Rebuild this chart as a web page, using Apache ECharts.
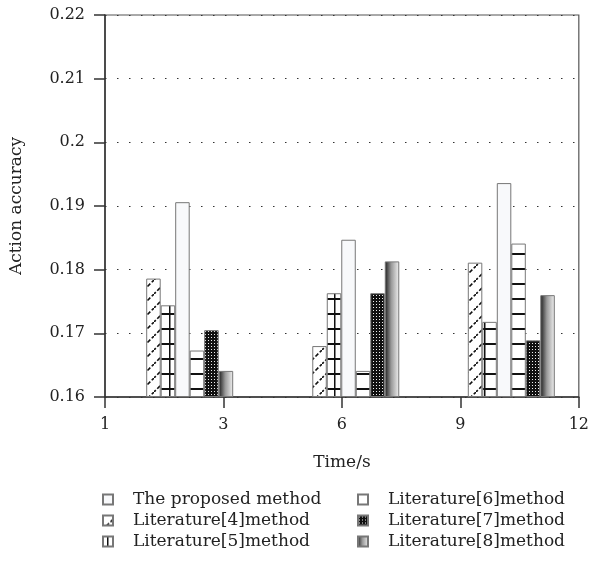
<!DOCTYPE html>
<html>
<head>
	<meta charset="utf-8">
	<title></title>
    <script src="https://cdn.jsdelivr.net/npm/echarts@6/dist/echarts.min.js"></script>
    <style>
        body { margin: 0; background: #fff; }
    </style>
</head>
<body>
    <div id="main" style="width: 592px;height:563px;"></div>
	<script type="text/javascript">
        // tick labels on the time axis (evenly spaced in the figure)
        const xLabels = ['1', '3', '6', '9', '12'];
        // where each group of bars sits, in units of the tick index above
        const groupX = [0.715, 2.117, 3.43];

        const proposed = [0.1906, 0.1847, 0.1936];
        const lit4 = [0.1786, 0.1680, 0.1811];
        const lit5 = [0.1744, 0.1763, 0.1718];
        const lit6 = [0.1673, 0.1641, 0.1841];
        const lit7 = [0.1705, 0.1763, 0.1689];
        const lit8 = [0.1641, 0.1813, 0.1760];

        const FONT = 'DejaVu Serif';

        function tile(w, h, draw) {
            const c = document.createElement('canvas');
            c.width = w; c.height = h;
            const ctx = c.getContext('2d');
            ctx.fillStyle = '#fff';
            ctx.fillRect(0, 0, w, h);
            draw(ctx);
            return { image: c, repeat: 'repeat' };
        }

        const hatch = tile(14, 14, ctx => {
            ctx.strokeStyle = '#111';
            ctx.lineWidth = 1.6;
            ctx.setLineDash([4, 2]);
            ctx.beginPath();
            ctx.moveTo(-1, 15); ctx.lineTo(15, -1);
            ctx.stroke();
        });
        const teeLines = tile(15, 15, ctx => {
            ctx.fillStyle = '#111';
            ctx.fillRect(0, 13, 15, 2);
            ctx.fillRect(4, 0, 1.5, 15);
        });
        const hLines = tile(15, 15, ctx => {
            ctx.fillStyle = '#111';
            ctx.fillRect(0, 13, 15, 2);
        });
        const dots = tile(3, 3, ctx => {
            ctx.fillStyle = '#111';
            ctx.fillRect(0, 0, 3, 3);
            ctx.fillStyle = '#eee';
            ctx.fillRect(1, 1, 1, 1);
        });
        const shade = {
            type: 'linear', x: 0, y: 0, x2: 1, y2: 0,
            colorStops: [
                { offset: 0, color: '#1a1a1a' },
                { offset: 0.45, color: '#9a9a9a' },
                { offset: 1, color: '#f2f2f2' }
            ]
        };

        const seriesDefs = [
            { name: 'Literature[4]method', values: lit4, fill: hatch },
            { name: 'Literature[5]method', values: lit5, fill: teeLines },
            { name: 'The proposed method', values: proposed, fill: '#f8f9fb' },
            { name: 'Literature[6]method', values: lit6, fill: hLines },
            { name: 'Literature[7]method', values: lit7, fill: dots },
            { name: 'Literature[8]method', values: lit8, fill: shade }
        ];

        const legendText = { fontFamily: FONT, fontSize: 17, color: '#222', padding: [0, 0, 0, 15] };

        const myChart = echarts.init(document.getElementById('main'));
        const options = {
            animation: false,
            grid: {
                left: 102, right: 12, top: 15, bottom: 166,
                show: true, borderColor: '#555', borderWidth: 1.2
            },
            legend: [{
                orient: 'vertical', left: 97, top: 486,
                icon: 'rect',
                itemWidth: 10, itemHeight: 10, itemGap: 4,
                textStyle: legendText,
                data: ['The proposed method', 'Literature[4]method', 'Literature[5]method']
            }, {
                orient: 'vertical', left: 352, top: 486,
                icon: 'rect',
                itemWidth: 10, itemHeight: 10, itemGap: 4,
                textStyle: legendText,
                data: ['Literature[6]method', 'Literature[7]method', 'Literature[8]method']
            }],
            xAxis: [{
                type: 'category',
                data: xLabels,
                boundaryGap: false,
                name: 'Time/s',
                nameLocation: 'middle',
                nameGap: 57,
                nameTextStyle: { fontFamily: FONT, fontSize: 17, color: '#222' },
                axisLine: { lineStyle: { color: '#333', width: 1.5 } },
                axisTick: { length: 11, lineStyle: { color: '#333', width: 1.5 } },
                axisLabel: { margin: 20, fontFamily: FONT, fontSize: 16, color: '#222' },
                splitLine: { show: false }
            }, {
                type: 'value', min: 0, max: 4, show: false
            }],
            yAxis: {
                type: 'value',
                min: 0.16, max: 0.22, interval: 0.01,
                startValue: 0.16,
                name: 'Action accuracy',
                nameLocation: 'middle',
                nameGap: 80,
                nameTextStyle: { fontFamily: FONT, fontSize: 17, color: '#222' },
                axisLine: { show: true, lineStyle: { color: '#333', width: 1.5 } },
                axisTick: { show: true, length: 11, lineStyle: { color: '#333', width: 1.5 } },
                axisLabel: { margin: 20, fontFamily: FONT, fontSize: 16, color: '#222' },
                splitLine: { lineStyle: { color: '#333', width: 1, type: [1.5, 10.5] } }
            },
            series: seriesDefs.map(d => ({
                name: d.name,
                type: 'bar',
                xAxisIndex: 1,
                barWidth: 14.5,
                barGap: '0%',
                itemStyle: { color: d.fill, borderColor: '#777', borderWidth: 1 },
                data: d.values.map((v, i) => [groupX[i], v])
            }))
        };
        myChart.setOption(options);
	</script>
</body>
</html>
